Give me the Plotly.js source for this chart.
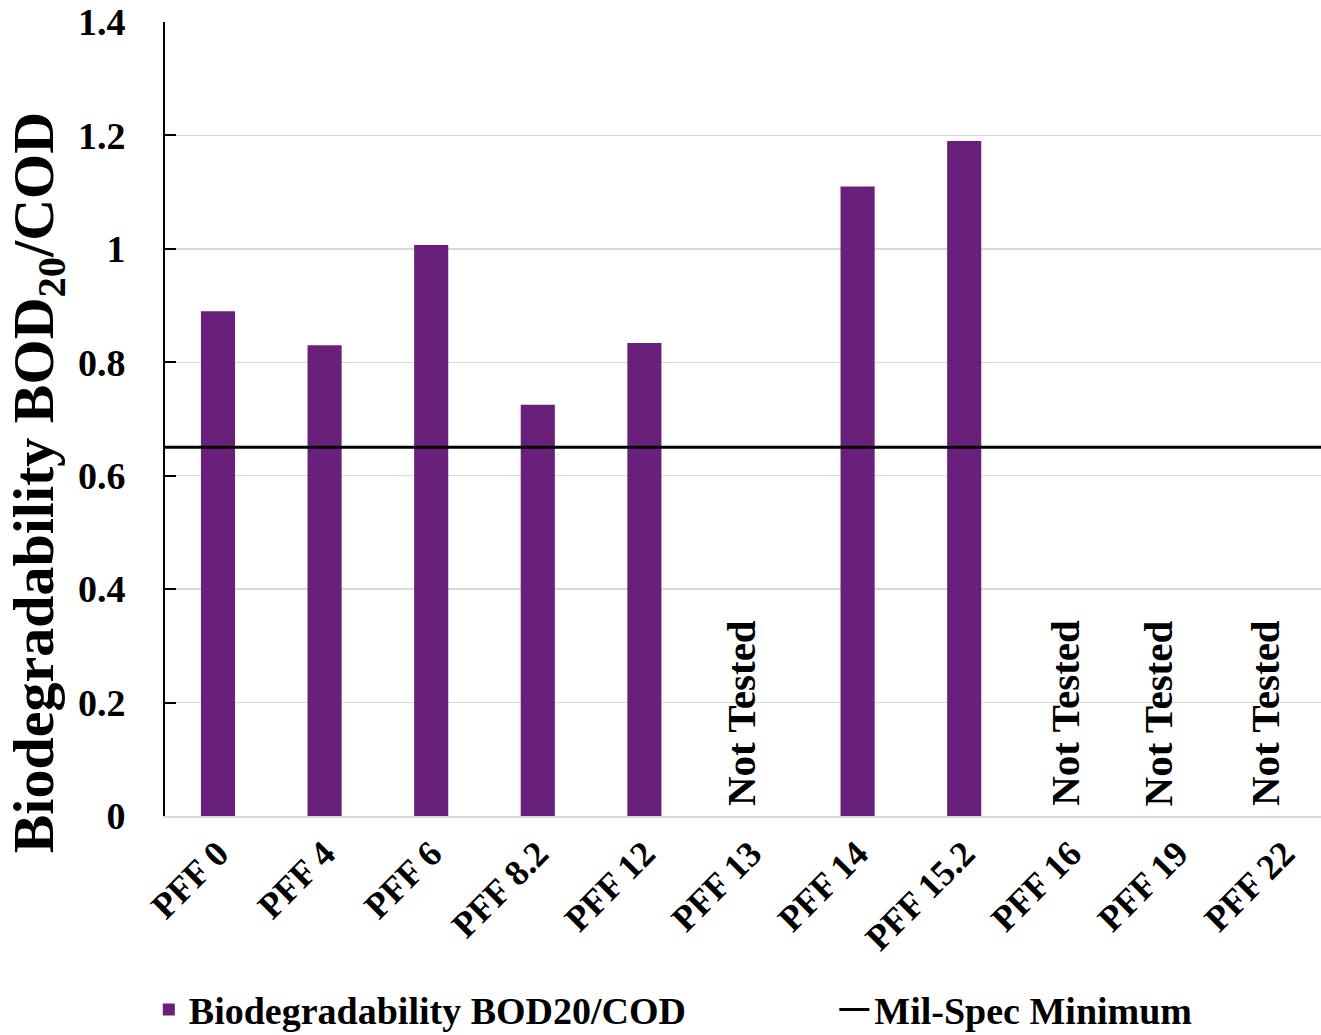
<!DOCTYPE html>
<html>
<head>
<meta charset="utf-8">
<script src="https://cdn.plot.ly/plotly-3.0.1.min.js"></script>
<style>html,body{margin:0;padding:0;background:#fff;}#chart{width:1321px;height:1035px;}</style>
</head>
<body>
<div id="chart"></div>
<script>
const categories = ["PFF 0","PFF 4","PFF 6","PFF 8.2","PFF 12","PFF 13","PFF 14","PFF 15.2","PFF 16","PFF 19","PFF 22"];
const biodegradability = [0.89, 0.83, 1.007, 0.725, 0.834, null, 1.11, 1.19, null, null, null];
const notTested = ["PFF 13","PFF 16","PFF 19","PFF 22"];
const notTestedShift = [-10, -6, -19, -19];
const milSpecMinimum = 0.65;
const yTicks = [0, 0.2, 0.4, 0.6, 0.8, 1, 1.2, 1.4];
const yTickText = ["0","0.2","0.4","0.6","0.8","1","1.2","1.4"];

const FONT = "Liberation Serif, Times New Roman, serif";
const PURPLE = "#68207A";

const traces = [
  {
    type: "bar",
    x: categories,
    y: biodegradability,
    name: "Biodegradability BOD20/COD",
    marker: {color: PURPLE},
    width: 0.32,
    legend: "legend"
  },
  {
    type: "scatter",
    mode: "lines",
    x: [0, 1],
    y: [milSpecMinimum, milSpecMinimum],
    xaxis: "x2",
    name: "Mil-Spec Minimum",
    line: {color: "#000", width: 3},
    legend: "legend2"
  }
];

const annotations = notTested.map((c, i) => ({
  x: c, y: 0, xref: "x", yref: "y",
  text: "<b>Not Tested</b>", showarrow: false,
  textangle: -90, yanchor: "bottom", xanchor: "center", yshift: 8, xshift: notTestedShift[i],
  font: {family: FONT, size: 41, color: "#000"}
}));
annotations.push({
  xref: "paper", yref: "paper", x: -0.110, y: 0.42,
  xanchor: "center", yanchor: "middle", showarrow: false,
  textangle: -90,
  text: "<b>Biodegradability BOD<sub>20</sub>/COD</b>",
  font: {family: FONT, size: 58, color: "#000"}
});

const legendFont = {family: FONT, size: 38, color: "#000", weight: "bold"};

const layout = {
  width: 1321, height: 1035,
  margin: {l: 165, r: 0, t: 22, b: 219, autoexpand: false},
  paper_bgcolor: "#fff", plot_bgcolor: "#fff",
  font: {family: FONT, color: "#000"},
  xaxis: {
    type: "category",
    range: [-0.497, 10.347],
    automargin: false,
    tickangle: -45,
    tickfont: {family: FONT, size: 36, color: "#000", weight: "bold"},
    showgrid: false,
    showline: true, linecolor: "#d9d9d9", linewidth: 2,
    ticks: "",
    zeroline: false
  },
  xaxis2: {
    overlaying: "x", range: [0, 1], visible: false, fixedrange: true
  },
  yaxis: {
    range: [0, 1.4],
    automargin: false,
    tickvals: yTicks, ticktext: yTickText,
    tickfont: {family: FONT, size: 38, color: "#000", weight: "bold"},
    ticks: "inside", ticklen: 11, tickwidth: 2, tickcolor: "#000",
    ticklabelstandoff: 30,
    showline: true, linecolor: "#000", linewidth: 2,
    showgrid: true, gridcolor: "#d9d9d9", gridwidth: 1.5,
    zeroline: false
  },
  showlegend: true,
  legend: {
    orientation: "h",
    x: -0.014, xanchor: "left",
    y: -0.244, yanchor: "middle",
    font: legendFont,
    bgcolor: "rgba(0,0,0,0)"
  },
  legend2: {
    orientation: "h",
    x: 0.579, xanchor: "left",
    y: -0.244, yanchor: "middle",
    font: legendFont,
    bgcolor: "rgba(0,0,0,0)"
  },
  annotations: annotations
};

Plotly.newPlot("chart", traces, layout, {displayModeBar: false, staticPlot: true});
</script>
</body>
</html>
